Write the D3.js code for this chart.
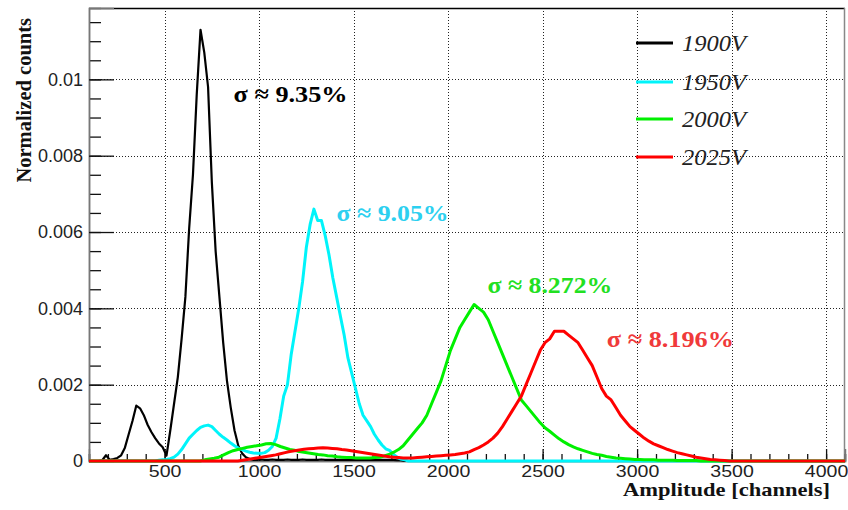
<!DOCTYPE html>
<html>
<head>
<meta charset="utf-8">
<script src="https://cdn.jsdelivr.net/npm/d3@7"></script>
<style>
  html, body { margin: 0; padding: 0; background: #fff; }
  svg { display: block; }
</style>
</head>
<body>
<svg id="chart" width="848" height="510"></svg>
<script>
// Pulse-height spectra of the PMT at four bias voltages (normalized counts per bin)
const voltages = ["1900V", "1950V", "2000V", "2025V"];
const lineColors = ["#000000", "#00f4fa", "#00f000", "#ff0000"];
const sigmaLabels = ["σ ≈ 9.35%", "σ ≈ 9.05%", "σ ≈ 8.272%", "σ ≈ 8.196%"];
const sigmaColors = ["#000000", "#2cd0f0", "#22e022", "#f03a3a"];
// label anchor in data units: [channel, normalized counts]
const sigmaAnchor = [[865, 0.00940], [1410, 0.00630], [2208, 0.00440], [2840, 0.00300]];

// 1900V: first bin at channel 140, 20 channels per bin
const start1900 = 140, width1900 = 20;
const counts1900 = [
  0, 0.00002, 0.00015, 0.00003, 0.00005, 0.00008, 0.00015, 0.00035, 0.0007, 0.00105,
  0.00145, 0.00138, 0.0012, 0.00095, 0.00076, 0.0006, 0.00046, 0.00036, 0.00014, 0.0008,
  0.0015, 0.0022, 0.0032, 0.0043, 0.0061, 0.0075, 0.0096, 0.0113, 0.0107, 0.0098,
  0.0073, 0.0055, 0.0043, 0.0031, 0.0021, 0.0014, 0.0008, 0.0004, 0.0002, 0.0001,
  0.00005, 0.00003, 0.00003, 0.00004, 0.00003, 0.00003, 0.00004, 0.00003, 0.00003, 0.00003,
  0.00004, 0.00003, 0.00003, 0.00003, 0.00004, 0.00003, 0.00003, 0.00003, 0.00003, 0.00004,
  0.00003, 0.00003, 0.00003, 0.00003, 0.00003, 0.00003, 0.00003, 0.00003, 0.00003, 0.00003,
  0.00003, 0.00003, 0.00003, 0.00003, 0.00003, 0.00003, 0.00003, 0.00003, 0.00003, 0.00002,
  0.00002
];

// 1950V: first bin at channel 440, 20 channels per bin
const start1950 = 440, width1950 = 20;
const counts1950 = [
  0, 0.00002, 0.00003, 0.00004, 0.00006, 0.0001, 0.00018, 0.0003, 0.00045, 0.0006,
  0.0007, 0.0008, 0.00088, 0.00092, 0.00094, 0.0009, 0.0008, 0.0007, 0.00062, 0.00055,
  0.00047, 0.0004, 0.00034, 0.0003, 0.00026, 0.00023, 0.00021, 0.0002, 0.0002, 0.00022,
  0.00028, 0.00038, 0.0006, 0.0011, 0.0017, 0.0020, 0.0028, 0.0034, 0.0040, 0.0047,
  0.0056, 0.0062, 0.0066, 0.0063, 0.0063, 0.0059, 0.0054, 0.0048, 0.0043, 0.0038,
  0.0033, 0.0027, 0.0023, 0.0019, 0.0015, 0.0012, 0.00105, 0.0009, 0.0007, 0.00055,
  0.00042, 0.00032, 0.00028, 0.00018, 0.0001, 0.00005, 0.00003
];

// 2000V: first bin at channel 700, 25 channels per bin
const start2000 = 700, width2000 = 25;
const counts2000 = [
  0.00003, 0.00005, 0.00007, 0.0001, 0.00016, 0.00022, 0.00027, 0.0003, 0.00033, 0.00036,
  0.00038, 0.0004, 0.00042, 0.00045, 0.00046, 0.00043, 0.00038, 0.00034, 0.0003, 0.00028,
  0.00025, 0.00023, 0.00021, 0.00019, 0.00017, 0.00016, 0.00014, 0.00013, 0.00011, 0.0001,
  0.00009, 0.00009, 0.00008, 0.00008, 0.00008, 0.00008, 0.00009, 0.0001, 0.00013, 0.00017,
  0.00023, 0.0003, 0.0004, 0.00055, 0.0007, 0.00085, 0.001, 0.0012, 0.0015, 0.0018,
  0.0021, 0.0025, 0.0029, 0.0032, 0.0035, 0.0037, 0.0039, 0.0041, 0.0040, 0.0039,
  0.0037, 0.0034, 0.0031, 0.0028, 0.0025, 0.0022, 0.0019, 0.0016, 0.00145, 0.0013,
  0.00115, 0.001, 0.00087, 0.00078, 0.00068, 0.00058, 0.0005, 0.00043, 0.00037, 0.00032,
  0.00028, 0.00024, 0.0002, 0.00017, 0.00015, 0.00012, 0.0001, 0.00008, 0.00007, 0.00006,
  0.00005, 0.00004, 0.00004, 0.00003, 0.00003, 0.00003, 0.00002, 0.00002, 0.00002, 0.00002,
  0.00001, 0.00001, 0.00001, 0.00001, 0.00001
];

// 2025V: first bin at channel 900, 25 channels per bin
const start2025 = 900, width2025 = 25;
const counts2025 = [
  0.00002, 0.00004, 0.00006, 0.00008, 0.0001, 0.00012, 0.00014, 0.00016, 0.00019, 0.00022,
  0.00025, 0.00027, 0.00029, 0.00031, 0.00032, 0.00033, 0.00034, 0.00035, 0.00034, 0.00033,
  0.00032, 0.0003, 0.00029, 0.00027, 0.00025, 0.00023, 0.00021, 0.00019, 0.00017, 0.00015,
  0.00013, 0.00011, 0.0001, 0.00009, 0.00008, 0.00008, 0.00008, 0.00009, 0.0001, 0.00011,
  0.00012, 0.00013, 0.00014, 0.00015, 0.00016, 0.00017, 0.00019, 0.00021, 0.00024, 0.0003,
  0.00035, 0.00042, 0.0005, 0.0006, 0.00073, 0.0009, 0.0011, 0.0013, 0.0015, 0.0017,
  0.0020, 0.0023, 0.0026, 0.0029, 0.0031, 0.0032, 0.0034, 0.0034, 0.0034, 0.0033,
  0.0032, 0.0031, 0.0029, 0.0027, 0.0025, 0.0022, 0.0019, 0.0017, 0.0016, 0.0014,
  0.0012, 0.00105, 0.0009, 0.0008, 0.0007, 0.0006, 0.00052, 0.00045, 0.0004, 0.00035,
  0.0003, 0.00026, 0.00022, 0.00019, 0.00016, 0.00013, 0.0001, 0.00008, 0.00006, 0.00004,
  0.00003, 0.00002, 0.00001
];

const seriesStarts = [start1900, start1950, start2000, start2025];
const seriesWidths = [width1900, width1950, width2000, width2025];
const seriesCounts = [counts1900, counts1950, counts2000, counts2025];

// axis ticks
const xMajor = [500, 1000, 1500, 2000, 2500, 3000, 3500, 4000];
const xMinor = d3.range(100, 4101, 100);
const yMajor = [0, 0.002, 0.004, 0.006, 0.008, 0.01];
const yMinor = d3.range(0, 0.01151, 0.0005);
const yTickLabels = ["0", "0.002", "0.004", "0.006", "0.008", "0.01"];
const xTitle = "Amplitude [channels]";
const yTitle = "Normalized counts";

// ---------- layout ----------
const svg = d3.select("#chart");
const plotLeft = 89, plotRight = 845, plotTop = 8, plotBottom = 461;
const x = d3.scaleLinear().domain([100, 4100]).range([plotLeft, plotRight]);
const y = d3.scaleLinear().domain([0, 0.01187]).range([plotBottom, plotTop]);

const sansFont = "'Liberation Sans', Arial, sans-serif";
const serifFont = "'Liberation Serif', 'Times New Roman', serif";

// grid
const grid = svg.append("g").attr("stroke", "#222").attr("stroke-width", 1)
  .attr("stroke-dasharray", "1,2").attr("shape-rendering", "crispEdges");
grid.selectAll("line.gx").data(xMajor).join("line").attr("class", "gx")
  .attr("x1", d => Math.round(x(d)) + 0.5).attr("x2", d => Math.round(x(d)) + 0.5)
  .attr("y1", plotTop).attr("y2", plotBottom);
grid.selectAll("line.gy").data(yMajor.filter(d => d > 0)).join("line").attr("class", "gy")
  .attr("x1", plotLeft).attr("x2", plotRight)
  .attr("y1", d => Math.round(y(d)) + 0.5).attr("y2", d => Math.round(y(d)) + 0.5);

// frame
svg.append("line").attr("x1", plotLeft).attr("x2", plotRight)
  .attr("y1", plotTop + 0.5).attr("y2", plotTop + 0.5)
  .attr("stroke", "#000").attr("stroke-width", 1.5);
svg.append("line").attr("x1", plotRight - 0.5).attr("x2", plotRight - 0.5)
  .attr("y1", plotTop).attr("y2", plotBottom)
  .attr("stroke", "#888").attr("stroke-width", 1.5);

// y axis: ticks pointing into the frame
const yAxisMinor = d3.axisLeft(y).tickValues(yMinor).tickSize(-12).tickFormat("");
const yAxisMajor = d3.axisLeft(y).tickValues(yMajor).tickSize(-25).tickPadding(6)
  .tickFormat((d, i) => yTickLabels[i]);
const gyMinor = svg.append("g").attr("transform", `translate(${plotLeft},0)`).call(yAxisMinor);
const gyMajor = svg.append("g").attr("transform", `translate(${plotLeft},0)`).call(yAxisMajor);
[gyMinor, gyMajor].forEach(g => {
  g.select(".domain").attr("stroke", "#777").attr("stroke-width", 1.5);
  g.selectAll(".tick line").attr("stroke", "#111").attr("stroke-width", 1.3);
});
gyMajor.selectAll(".tick text").attr("font-family", sansFont).attr("font-size", 18)
  .attr("fill", "#222");

// x axis: ticks pointing up
const xAxisMinor = d3.axisBottom(x).tickValues(xMinor).tickSize(-7).tickFormat("");
const xAxisMajor = d3.axisBottom(x).tickValues(xMajor).tickSize(-12).tickPadding(4)
  .tickFormat(d3.format("d"));
const gxMinor = svg.append("g").attr("transform", `translate(0,${plotBottom})`).call(xAxisMinor);
const gxMajor = svg.append("g").attr("transform", `translate(0,${plotBottom})`).call(xAxisMajor);
[gxMinor, gxMajor].forEach(g => {
  g.select(".domain").attr("stroke", "#777").attr("stroke-width", 1.5);
  g.selectAll(".tick line").attr("stroke", "#111").attr("stroke-width", 1.3);
});
gxMajor.selectAll(".tick text").attr("font-family", sansFont).attr("font-size", 17)
  .attr("fill", "#222").attr("transform", "scale(1.15,1)");

// histograms: one vertex per bin centre, spanning the full channel range
const lineWidths = [2.2, 3, 3, 3];
const trace = d3.line().x(d => x(d[0])).y(d => y(d[1])).curve(d3.curveLinear);
seriesCounts.forEach((counts, i) => {
  const s = seriesStarts[i], w = seriesWidths[i];
  const pts = [[100, 0], [s - w / 2, 0]];
  counts.forEach((v, k) => pts.push([s + (k + 0.5) * w, v]));
  pts.push([s + (counts.length + 0.5) * w, 0]);
  pts.push([4100, 0]);
  svg.append("path").attr("d", trace(pts)).attr("fill", "none")
    .attr("stroke", lineColors[i]).attr("stroke-width", lineWidths[i])
    .attr("stroke-linejoin", "round");
});

// resolution labels
const sigmaWidths = [114, 112, 125, 127];
sigmaLabels.forEach((t, i) => {
  svg.append("text").attr("x", x(sigmaAnchor[i][0])).attr("y", y(sigmaAnchor[i][1]))
    .attr("font-family", serifFont).attr("font-weight", "bold").attr("font-size", 24)
    .attr("textLength", sigmaWidths[i]).attr("lengthAdjust", "spacingAndGlyphs")
    .attr("fill", sigmaColors[i]).text(t);
});

// legend
const legendY = [43, 82, 119, 157];
voltages.forEach((v, i) => {
  svg.append("line").attr("x1", 636).attr("x2", 673).attr("y1", legendY[i]).attr("y2", legendY[i])
    .attr("stroke", lineColors[i]).attr("stroke-width", 3);
  svg.append("text").attr("x", 682).attr("y", legendY[i] + 8)
    .attr("font-family", serifFont).attr("font-style", "italic").attr("font-size", 23)
    .attr("textLength", 64).attr("lengthAdjust", "spacingAndGlyphs")
    .attr("fill", "#222").text(v);
});

// axis titles
svg.append("text").attr("x", 830).attr("y", 496).attr("text-anchor", "end")
  .attr("font-family", serifFont).attr("font-weight", "bold").attr("font-size", 19)
  .attr("textLength", 207).attr("lengthAdjust", "spacingAndGlyphs")
  .attr("fill", "#111").text(xTitle);
svg.append("text").attr("transform", "translate(31,18) rotate(-90)").attr("text-anchor", "end")
  .attr("font-family", serifFont).attr("font-weight", "bold").attr("font-size", 20.5)
  .attr("fill", "#111").text(yTitle);
</script>
</body>
</html>
